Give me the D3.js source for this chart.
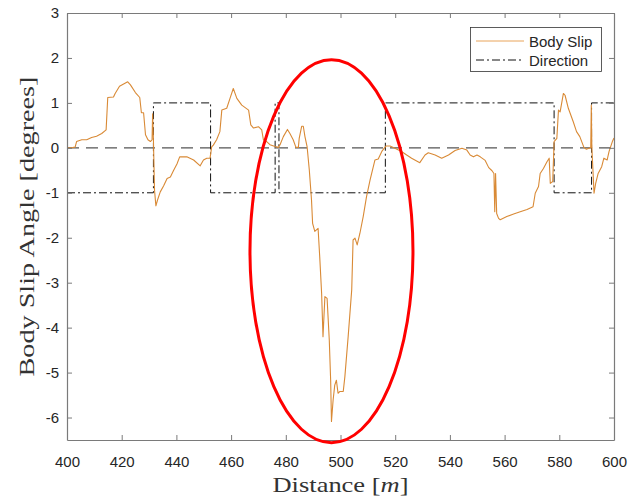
<!DOCTYPE html>
<html>
<head>
<meta charset="utf-8">
<script src="https://cdn.jsdelivr.net/npm/d3@7"></script>
<style>
  html, body { margin: 0; padding: 0; background: #fff; }
  svg { display: block; }
</style>
</head>
<body>
<svg id="chart" width="629" height="499"></svg>
<script>
// Body slip angle along the track (distance in m, angle in degrees)
const slipDistance = [
  400, 401.5, 403, 403.5, 405.4, 407.2, 409, 410.8, 412.7, 414.3, 414.9, 417, 417.6, 419.2, 420.7,
  422.2, 423.2, 425, 426.6, 427.2, 428, 428.7, 429.6, 430.5, 431.1, 431.3, 431.6, 432, 432.5,
  433.1, 434.1, 435.3, 436.6, 437.8, 439, 440.2, 441.2, 443.8, 446.3, 448.7, 449.9, 451.1, 452.3,
  452.9, 453.5, 454.7, 455.9, 456.6, 458.4, 459.6, 460.8, 462.1, 463.9, 466.4, 467.2, 468.2, 470,
  471.2, 471.8, 473, 474.2, 476.1, 477.3, 477.9, 479.1, 480.6, 481.5, 482.7, 483.7, 484.6, 484.9,
  485.8, 486.4, 487, 487.8, 488.6, 489.4, 489.8, 490.6, 491.8, 492.4, 493.1, 493.6, 494.3, 495.1,
  495.9, 496.4, 496.7, 497.3, 497.9, 498.5, 499.1, 499.8, 501, 501.6, 502.8, 504.1, 504.6, 505.3,
  506.1, 507.1, 508.3, 509.5, 510.8, 512, 512.6, 513.8, 515.1, 516.6, 518.1, 519.9, 522.3, 524.2,
  526, 529, 530.9, 532.1, 534.6, 537, 539.5, 541.9, 544.4, 546.2, 547.4, 548.6, 549.9, 551.1,
  552.9, 554.2, 555.4, 556.1, 556.4, 556.7, 557.1, 557.8, 558.4, 560.8, 563.3, 565.7, 568.2, 570.4,
  571.2, 572.4, 573, 574.2, 575.5, 576.3, 576.7, 577.6, 578.1, 579.1, 579.7, 580.3, 581.5, 582.1,
  583.3, 585.1, 586.3, 587.5, 589, 589.9, 591.5, 591.7, 591.9, 592.7, 593.3, 594.2, 595.5, 596.3,
  597.5, 598.2, 599.4, 600
];
const slipAngle = [
  0.00, 0.00, 0.02, 0.14, 0.18, 0.18, 0.23, 0.26, 0.32, 0.40, 1.12, 1.13, 1.21, 1.37, 1.42,
  1.47, 1.40, 1.23, 1.12, 0.78, 0.78, 0.29, 0.18, 0.14, 0.18, 0.76, 0.18, -0.94, -1.29,
  -1.16, -0.98, -0.85, -0.68, -0.65, -0.50, -0.36, -0.20, -0.20, -0.27, -0.40, -0.27, -0.23, -0.23,
  0.02, 0.06, 0.18, 0.36, 0.84, 0.88, 1.10, 1.32, 1.10, 0.95, 0.84, 0.51, 0.44, 0.47,
  0.40, 0.18, 0.14, 0.07, 0.03, 0.01, 0.07, 0.25, 0.41, 0.32, 0.18, 0.01, 0.01, 0.21,
  0.48, 0.48, 0.25, 0.02, -0.50, -1.16, -1.68, -1.86, -1.79, -2.42, -3.24, -4.20, -3.31, -3.35,
  -4.28, -5.17, -6.09, -5.61, -5.28, -5.17, -5.46, -5.42, -5.42, -5.09, -4.20, -3.16, -2.05, -2.01,
  -2.16, -1.90, -1.53, -1.09, -0.72, -0.42, -0.27, -0.25, -0.08, 0.04, 0.04, -0.01, -0.08, -0.16,
  -0.23, -0.33, -0.16, -0.11, -0.16, -0.23, -0.16, -0.06, -0.01, -0.05, -0.16, -0.20, -0.16, -0.20,
  -0.28, -0.44, -0.51, -0.57, -1.42, -0.57, -1.46, -1.57, -1.60, -1.53, -1.47, -1.42, -1.37, -1.31,
  -1.01, -0.86, -0.57, -0.46, -0.31, -0.23, -0.79, -0.75, 0.14, 0.21, 0.84, 0.80, 1.21, 1.17,
  0.88, 0.58, 0.36, 0.25, 0.01, -0.03, 0.01, 0.95, 0.01, -1.01, -0.79, -0.57, -0.42, -0.23,
  -0.27, -0.08, 0.14, 0.22
];

// Turning direction (+1 / -1), held from each switch distance to the next
const directionDistance = [400, 431.6, 452.5, 476.1, 477.5, 516.4, 578.1, 591.8, 600];
const directionValue    = [-1, 1, -1, 1, -1, 1, -1, 1, 1];

// Axis ticks
const xTicks = [400, 420, 440, 460, 480, 500, 520, 540, 560, 580, 600];
const yTicks = [3, 2, 1, 0, -1, -2, -3, -4, -5, -6];

// Highlighted region (centre and radii in data units)
const highlightCenter = [496.7, -2.3];
const highlightRadius = [29.8, 4.26];

const svg = d3.select("#chart");
const W = 629, H = 499;
const m = { left: 67, right: 15, top: 13, bottom: 59 };
const x = d3.scaleLinear().domain([400, 600]).range([m.left, W - m.right]);
const y = d3.scaleLinear().domain([-6.5, 3]).range([H - m.bottom, m.top]);

const axisColor = "#7a7a7a";
const textColor = "#262626";
const tickFont = "Liberation Sans, Arial, sans-serif";
const labelFont = "Liberation Serif, Times New Roman, serif";

// Zero reference line
svg.append("line")
  .attr("x1", x(400)).attr("x2", x(600))
  .attr("y1", y(0)).attr("y2", y(0))
  .attr("stroke", "#555").attr("stroke-width", 1.3)
  .attr("stroke-dasharray", "12,7");

// Direction (dash-dot step line)
const dirData = directionDistance.map((d, i) => [d, directionValue[i]]);
svg.append("path")
  .datum(dirData)
  .attr("fill", "none")
  .attr("stroke", "#111").attr("stroke-width", 1)
  .attr("stroke-dasharray", "8,3,2,3")
  .attr("d", d3.line().x(d => x(d[0])).y(d => y(d[1])).curve(d3.curveStepAfter));

// Body slip curve
const slipData = slipDistance.map((d, i) => [d, slipAngle[i]]);
svg.append("path")
  .datum(slipData)
  .attr("fill", "none")
  .attr("stroke", "#d98a36").attr("stroke-width", 1.1)
  .attr("stroke-linejoin", "round")
  .attr("d", d3.line().x(d => x(d[0])).y(d => y(d[1])));

// Axes box with inward ticks on all four sides
const gx = svg.append("g").attr("transform", `translate(0,${y(-6.5)})`)
  .call(d3.axisBottom(x).tickValues(xTicks).tickSizeInner(-5).tickSizeOuter(0).tickPadding(16).tickFormat(d3.format("d")));
const gxTop = svg.append("g").attr("transform", `translate(0,${y(3)})`)
  .call(d3.axisTop(x).tickValues(xTicks).tickSizeInner(-5).tickSizeOuter(0).tickFormat(""));
const gy = svg.append("g").attr("transform", `translate(${x(400)},0)`)
  .call(d3.axisLeft(y).tickValues(yTicks).tickSizeInner(-5).tickSizeOuter(0).tickPadding(8).tickFormat(d3.format("d")));
const gyRight = svg.append("g").attr("transform", `translate(${x(600)},0)`)
  .call(d3.axisRight(y).tickValues(yTicks).tickSizeInner(-5).tickSizeOuter(0).tickFormat(""));

[gx, gxTop, gy, gyRight].forEach(g => {
  g.select(".domain").attr("stroke", axisColor).attr("stroke-width", 1.2);
  g.selectAll(".tick line").attr("stroke", axisColor);
  g.selectAll(".tick text")
    .attr("fill", textColor)
    .style("font-family", tickFont)
    .style("font-size", "15px");
});
gy.selectAll(".tick text").text(d => d < 0 ? "-" + Math.abs(d) : d);

// Axis titles
svg.append("text")
  .attr("x", (x(400) + x(600)) / 2).attr("y", 492)
  .attr("text-anchor", "middle")
  .attr("fill", "#333")
  .attr("textLength", 136).attr("lengthAdjust", "spacingAndGlyphs")
  .style("font-family", labelFont).style("font-size", "22px")
  .html('Distance [<tspan font-style="italic">m</tspan>]');

svg.append("text")
  .attr("transform", `translate(34,${(y(3) + y(-6.5)) / 2}) rotate(-90)`)
  .attr("text-anchor", "middle")
  .attr("fill", "#333")
  .attr("textLength", 300).attr("lengthAdjust", "spacingAndGlyphs")
  .style("font-family", labelFont).style("font-size", "22px")
  .text("Body Slip Angle [degrees]");

// Legend
const lg = svg.append("g");
lg.append("rect")
  .attr("x", 470.5).attr("y", 27.5).attr("width", 131).attr("height", 44)
  .attr("fill", "#fff").attr("stroke", "#333").attr("stroke-width", 0.8);
lg.append("line").attr("x1", 476).attr("x2", 524).attr("y1", 41).attr("y2", 41)
  .attr("stroke", "#e9a45a").attr("stroke-width", 1);
lg.append("line").attr("x1", 476).attr("x2", 524).attr("y1", 60).attr("y2", 60)
  .attr("stroke", "#111").attr("stroke-width", 1).attr("stroke-dasharray", "8,3,2,3");
lg.append("text").attr("x", 529).attr("y", 46.5).text("Body Slip")
  .attr("fill", textColor).style("font-family", tickFont).style("font-size", "15px");
lg.append("text").attr("x", 529).attr("y", 65.5).text("Direction")
  .attr("fill", textColor).style("font-family", tickFont).style("font-size", "15px");

// Highlight ellipse around the deepest slip excursion
svg.append("ellipse")
  .attr("cx", x(highlightCenter[0])).attr("cy", y(highlightCenter[1]))
  .attr("rx", x(highlightCenter[0] + highlightRadius[0]) - x(highlightCenter[0]))
  .attr("ry", y(highlightCenter[1] - highlightRadius[1]) - y(highlightCenter[1]))
  .attr("fill", "none").attr("stroke", "#f00").attr("stroke-width", 3);
</script>
</body>
</html>
